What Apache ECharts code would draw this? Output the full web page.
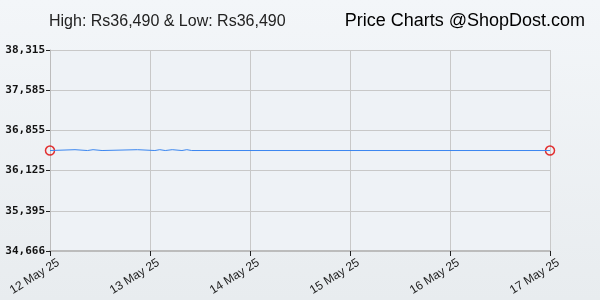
<!DOCTYPE html>
<html>
<head>
<meta charset="utf-8">
<script src="https://cdn.jsdelivr.net/npm/echarts@6/dist/echarts.min.js"></script>
<style>
  html, body { margin: 0; padding: 0; }
  #chart { width: 600px; height: 300px; }
</style>
</head>
<body>
<div id="chart"></div>
<script>
// price history
const times = [
  '2025-05-12 00:00', '2025-05-12 06:00', '2025-05-12 09:00', '2025-05-12 10:20',
  '2025-05-12 12:30', '2025-05-12 21:00', '2025-05-13 01:10', '2025-05-13 02:20',
  '2025-05-13 03:40', '2025-05-13 05:20', '2025-05-13 07:40', '2025-05-13 08:50',
  '2025-05-13 10:00', '2025-05-17 00:00'
]
const prices = [
  36490, 36505, 36490, 36505,
  36490, 36505, 36490, 36505,
  36490, 36505, 36490, 36505,
  36490, 36490
]
const yTickValues = [34666, 35395.8, 36125.6, 36855.4, 37585.2, 38315]
const yTickLabels = ['34,666', '35,395', '36,125', '36,855', '37,585', '38,315']
const xMin = '2025-05-12 00:00'
const xMax = '2025-05-17 00:00'
const months = ['Jan', 'Feb', 'Mar', 'Apr', 'May', 'Jun', 'Jul', 'Aug', 'Sep', 'Oct', 'Nov', 'Dec']

const chart = echarts.init(document.getElementById('chart'))

const lineData = times.map((t, i) => [t, prices[i]])
const endPoints = [lineData[0], lineData[lineData.length - 1]]

chart.setOption({
  animation: false,
  backgroundColor: {
    type: 'linear', x: 0, y: 0, x2: 0, y2: 1,
    colorStops: [{ offset: 0, color: '#f3f6f9' }, { offset: 1, color: '#e8ecef' }]
  },
  title: [
    {
      text: 'High: Rs36,490 & Low: Rs36,490',
      left: 44, top: 9,
      textStyle: { fontFamily: 'Liberation Sans', fontSize: 16, fontWeight: 'normal', color: '#222' }
    },
    {
      text: 'Price Charts @ShopDost.com',
      right: 10, top: 7,
      textStyle: { fontFamily: 'Liberation Sans', fontSize: 18, fontWeight: 'normal', color: '#000' }
    }
  ],
  grid: {
    left: 50, right: 50, top: 50, bottom: 49,
    outerBoundsMode: 'none', containLabel: false,
    show: true, backgroundColor: '#eef2f6', borderWidth: 0
  },
  xAxis: {
    type: 'time',
    min: xMin, max: xMax,
    interval: 24 * 3600 * 1000,
    axisLine: { lineStyle: { color: '#bcbcbc', width: 2 } },
    axisTick: { show: true, length: 5, lineStyle: { color: '#222' } },
    splitLine: { show: true, lineStyle: { color: '#c8c8c8', width: 1 } },
    axisLabel: {
      rotate: 32,
      margin: 16,
      padding: [0, -10, 0, 0],
      fontFamily: 'Liberation Sans',
      fontSize: 12,
      color: '#222',
      showMinLabel: true,
      showMaxLabel: true,
      formatter: (v) => {
        const d = new Date(v)
        return d.getDate() + ' ' + months[d.getMonth()] + ' ' + String(d.getFullYear()).slice(2)
      }
    }
  },
  yAxis: {
    type: 'value',
    min: yTickValues[0], max: yTickValues[yTickValues.length - 1],
    axisLine: { show: true, lineStyle: { color: '#bcbcbc', width: 1 } },
    axisTick: { show: true, length: 4, customValues: yTickValues, lineStyle: { color: '#222' } },
    splitLine: { show: true, lineStyle: { color: '#c8c8c8', width: 1 } },
    axisLabel: {
      customValues: yTickValues,
      margin: 5,
      fontFamily: 'DejaVu Sans Mono',
      fontWeight: 'bold',
      fontSize: 11,
      color: '#111',
      formatter: (v) => {
        const i = yTickValues.findIndex(t => Math.abs(t - v) < 1)
        return i >= 0 ? yTickLabels[i] : ''
      }
    }
  },
  series: [
    {
      type: 'line',
      data: lineData,
      showSymbol: false,
      symbol: 'none',
      lineStyle: { color: '#3a86f0', width: 1 }
    },
    {
      type: 'scatter',
      data: endPoints,
      symbol: 'circle',
      symbolSize: 9,
      itemStyle: { color: 'rgba(255,255,255,0)', borderColor: '#e00000', borderWidth: 1.5 }
    }
  ]
})
</script>
</body>
</html>
